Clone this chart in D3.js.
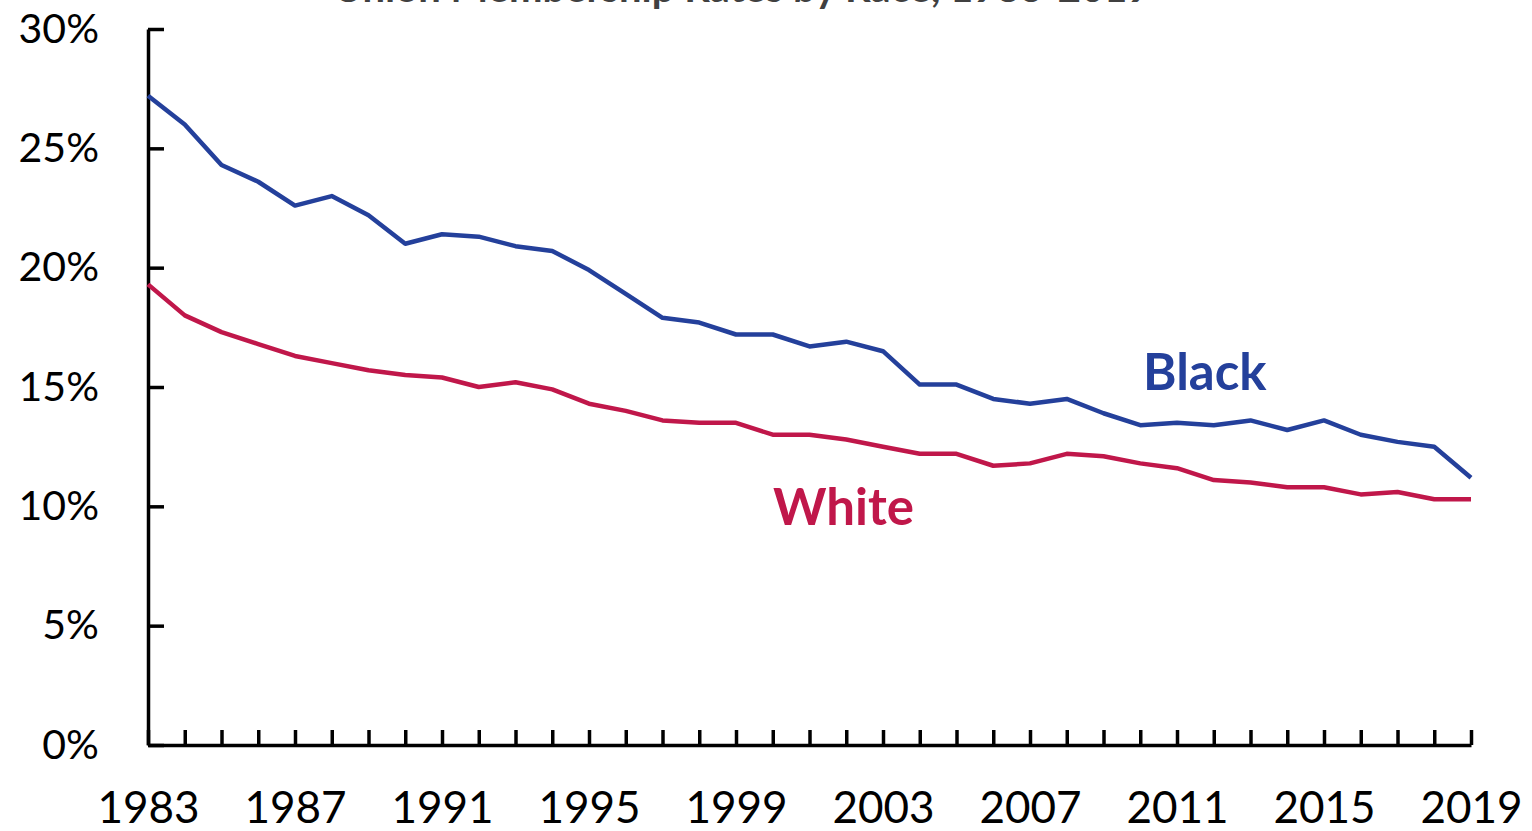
<!DOCTYPE html>
<html>
<head>
<meta charset="utf-8">
<script src="https://cdn.jsdelivr.net/npm/d3@7"></script>
<style>
    body { margin: 0; background: #fff; }
    svg { display: block; font-family: Lato, "Open Sans", sans-serif; }
    .axis path, .axis line { stroke: #000; stroke-width: 3.5; }
    .axis text { fill: #000; font-family: Lato, "Open Sans", sans-serif; }
</style>
</head>
<body>
<script>
// union membership rate (%) by race, 1983-2019
var years = d3.range(1983, 2020);
var labelYears = [1983, 1987, 1991, 1995, 1999, 2003, 2007, 2011, 2015, 2019];
var yTicks = [0, 5, 10, 15, 20, 25, 30];

var black = [27.2, 26.0, 24.3, 23.6, 22.6, 23.0, 22.2, 21.0, 21.4, 21.3,
             20.9, 20.7, 19.9, 18.9, 17.9, 17.7, 17.2, 17.2, 16.7, 16.9,
             16.5, 15.1, 15.1, 14.5, 14.3, 14.5, 13.9, 13.4, 13.5, 13.4,
             13.6, 13.2, 13.6, 13.0, 12.7, 12.5, 11.2];
var white = [19.3, 18.0, 17.3, 16.8, 16.3, 16.0, 15.7, 15.5, 15.4, 15.0,
             15.2, 14.9, 14.3, 14.0, 13.6, 13.5, 13.5, 13.0, 13.0, 12.8,
             12.5, 12.2, 12.2, 11.7, 11.8, 12.2, 12.1, 11.8, 11.6, 11.1,
             11.0, 10.8, 10.8, 10.5, 10.6, 10.3, 10.3];

var width = 1532, height = 831;

var svg = d3.select("body").append("svg")
    .attr("width", width)
    .attr("height", height);

var x = d3.scaleLinear().domain([1983, 2019]).range([148, 1471]),
    y = d3.scaleLinear().domain([0, 30]).range([745, 29]);

// title, mostly cropped off the top of the picture as in the original
svg.append("text")
    .attr("x", 742)
    .attr("y", 2)
    .attr("text-anchor", "middle")
    .style("font-size", "40px")
    .style("font-weight", "bold")
    .style("fill", "#404040")
    .text("Union Membership Rates by Race, 1983-2019");

var xAxis = d3.axisBottom(x)
    .tickValues(years)
    .tickSizeInner(-15)
    .tickSizeOuter(0)
    .tickPadding(47)
    .tickFormat(function(d){ return labelYears.indexOf(d) >= 0 ? d : ""; });

var yAxis = d3.axisLeft(y)
    .tickValues(yTicks)
    .tickSizeInner(-16)
    .tickSizeOuter(0)
    .tickPadding(49)
    .tickFormat(function(d){ return d + "%"; });

svg.append("g")
    .attr("class", "axis")
    .attr("transform", "translate(0," + y(0) + ")")
    .call(xAxis)
    .selectAll("text")
    .style("font-size", "44px");

svg.append("g")
    .attr("class", "axis")
    .attr("transform", "translate(" + x(1983) + ",0)")
    .call(yAxis)
    .selectAll("text")
    .style("font-size", "41px");

var line = d3.line()
    .x(function(d, i){ return x(years[i]); })
    .y(function(d){ return y(d); });

svg.append("path")
    .datum(white)
    .attr("d", line)
    .style("fill", "none")
    .style("stroke", "#c0174a")
    .style("stroke-width", 4.5)
    .style("stroke-linejoin", "round");

svg.append("path")
    .datum(black)
    .attr("d", line)
    .style("fill", "none")
    .style("stroke", "#24409b")
    .style("stroke-width", 4.5)
    .style("stroke-linejoin", "round");

// series labels
svg.append("text")
    .attr("x", 1143)
    .attr("y", 390)
    .style("font-size", "51px")
    .style("font-weight", "bold")
    .style("fill", "#24409b")
    .text("Black");

svg.append("text")
    .attr("x", 773)
    .attr("y", 525)
    .style("font-size", "51px")
    .style("font-weight", "bold")
    .style("fill", "#c0174a")
    .text("White");
</script>
</body>
</html>
